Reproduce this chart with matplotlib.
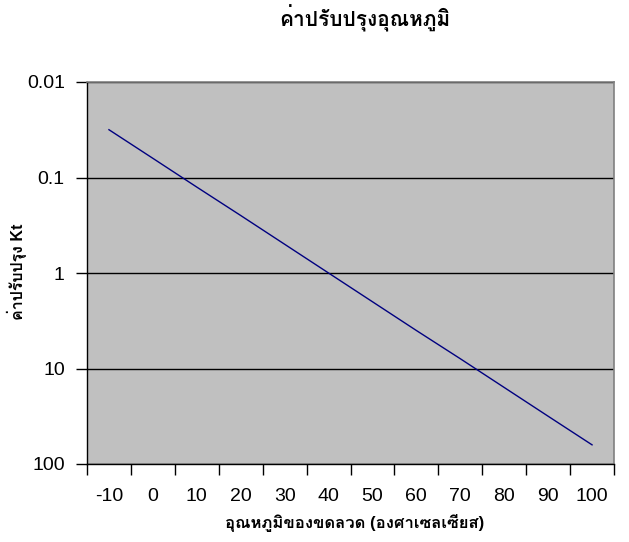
import matplotlib
matplotlib.use("Agg")
import matplotlib.pyplot as plt
from matplotlib.ticker import FixedLocator, NullLocator, FixedFormatter

temps = [-10, 0, 10, 20, 30, 40, 50, 60, 70, 80, 90, 100]
kt = [0.0316, 0.063, 0.126, 0.25, 0.5, 1.0, 2.0, 4.0, 7.9, 15.8, 31.6, 63.0]
y_ticks = [0.01, 0.1, 1, 10, 100]
y_labels = ["0.01", "0.1", "1", "10", "100"]
title = "ค่าปรับปรุงอุณหภูมิ"
xlabel = "อุณหภูมิของขดลวด (องศาเซลเซียส)"
ylabel = "ค่าปรับปรุง Kt"

FAM = ["Liberation Sans", "Loma", "DejaVu Sans"]
plt.rcParams["font.family"] = FAM

fig = plt.figure(figsize=(6.29, 5.42), dpi=100)
ax = fig.add_axes([87/629, 1-464/542, (614-87)/629, (464-82)/542])
ax.set_facecolor("#C0C0C0")

x = list(range(len(temps)))
ax.plot(x, kt, color="#000080", lw=1, zorder=3)

ax.set_yscale("log")
ax.set_ylim(100, 0.01)
ax.yaxis.set_major_locator(FixedLocator(y_ticks))
ax.yaxis.set_major_formatter(FixedFormatter(y_labels))
ax.yaxis.set_minor_locator(NullLocator())
ax.grid(axis="y", color="black", lw=1)
ax.set_axisbelow(True)

ax.set_xlim(-0.5, len(temps) - 0.5)
ax.set_xticks([i - 0.5 for i in range(len(temps) + 1)])
ax.set_xticklabels([])
ax.set_xticks(x, minor=True)
ax.set_xticklabels([str(t) for t in temps], minor=True)
ax.tick_params(axis="x", which="major", direction="out", length=8, width=1, color="black")
ax.tick_params(axis="x", which="minor", length=0, pad=17, labelsize=14)
ax.tick_params(axis="y", which="major", direction="out", length=8, width=1, pad=8, labelsize=14)

for s in ["top", "right"]:
    ax.spines[s].set_color("#808080")
    ax.spines[s].set_linewidth(1.2)
for s in ["left", "bottom"]:
    ax.spines[s].set_color("black")
    ax.spines[s].set_linewidth(1)

fig.text(365/629, 1-18/542, title, ha="center", va="center", fontsize=15, fontweight="bold")
fig.text(355/629, 1-523/542, xlabel, ha="center", va="center", fontsize=12, fontweight="bold")
fig.text(17/629, 1-272/542, ylabel, ha="center", va="center", rotation=90, fontsize=11.5, fontweight="bold")

fig.savefig("out.png", dpi=100)
